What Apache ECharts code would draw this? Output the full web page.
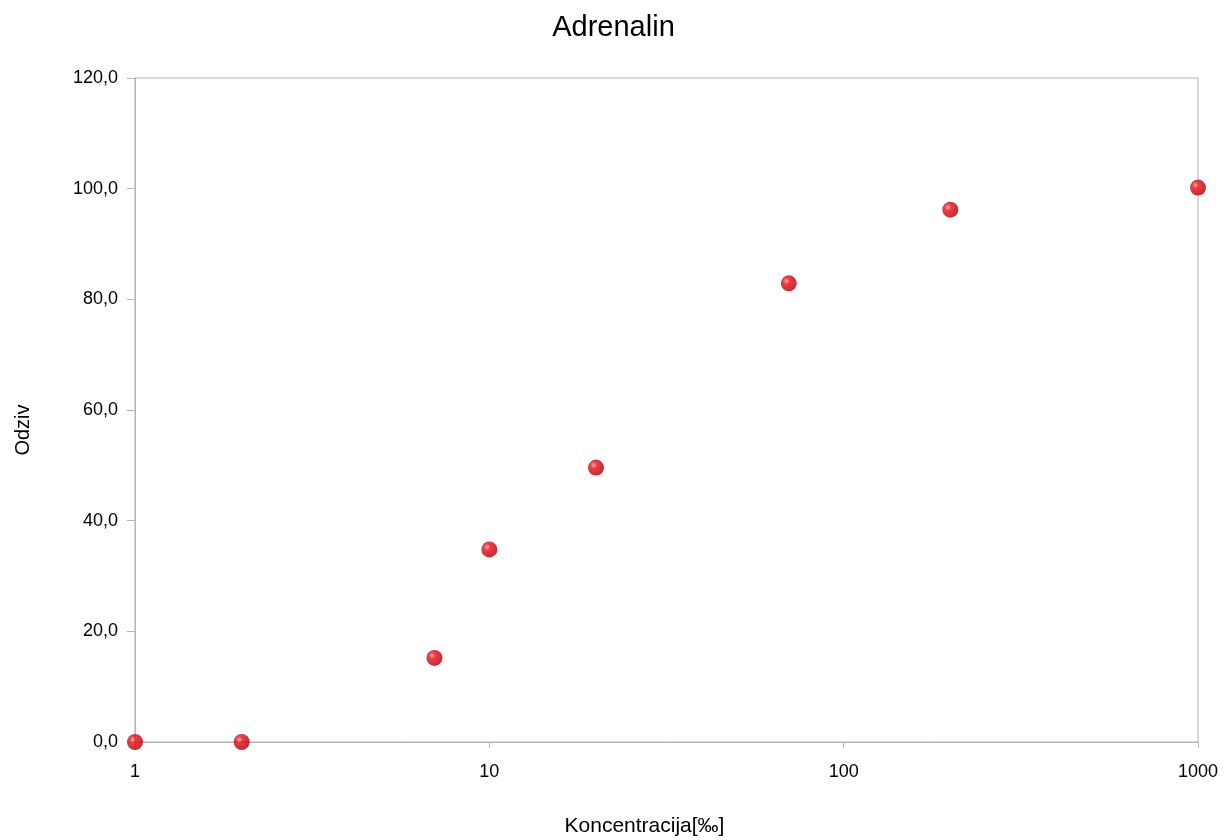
<!DOCTYPE html>
<html><head><meta charset="utf-8">
<script src="https://cdn.jsdelivr.net/npm/echarts@6/dist/echarts.min.js"></script>
<style>html,body{margin:0;padding:0;background:#fff}#c{width:1227px;height:840px}</style>
</head><body><div id="c"></div>
<script>
const concentrations = [1, 2, 7, 10, 20, 70, 200, 1000];
const responses = [0, 0, 15.2, 34.8, 49.6, 82.9, 96.2, 100.2];
const titleText = 'Adrenalin';
const xName = 'Koncentracija[‰]';
const yName = 'Odziv';

const chart = echarts.init(document.getElementById('c'));
const font = '"Liberation Sans", Arial, sans-serif';
chart.setOption({
  animation: false,
  backgroundColor: '#fff',
  title: { text: titleText, left: 'center', top: 8, textStyle: { fontFamily: font, fontWeight: 'normal', fontSize: 29, color: '#000' } },
  grid: { left: 135, right: 29, top: 78, bottom: 98, show: true, borderColor: '#b3b3b3', borderWidth: 1, outerBoundsMode: 'none', containLabel: false },
  xAxis: {
    type: 'log', logBase: 10, min: 1, max: 1000,
    name: xName, nameLocation: 'middle', nameGap: 74,
    nameTextStyle: { fontFamily: font, fontSize: 21, color: '#000', padding: [0, 44, 0, 0] },
    axisLine: { lineStyle: { color: '#b3b3b3', width: 1 } },
    axisTick: { show: true, length: 6, lineStyle: { color: '#b3b3b3' } },
    minorTick: { show: false },
    splitLine: { show: false },
    axisLabel: { fontFamily: font, fontSize: 18, color: '#000', margin: 21,
      formatter: v => String(Math.round(v)) }
  },
  yAxis: {
    type: 'value', min: 0, max: 120, interval: 20,
    name: yName, nameLocation: 'middle', nameGap: 102,
    nameTextStyle: { fontFamily: font, fontSize: 20, color: '#000', padding: [0, 40, 0, 0] },
    axisLine: { show: true, lineStyle: { color: '#b3b3b3', width: 1 } },
    axisTick: { show: true, length: 8, lineStyle: { color: '#b3b3b3' } },
    splitLine: { show: false },
    axisLabel: { fontFamily: font, fontSize: 18, color: '#000', margin: 17,
      formatter: v => v.toFixed(1).replace('.', ',') }
  },
  series: [{
    type: 'scatter',
    data: concentrations.map((c, i) => [c, responses[i]]),
    symbol: 'circle', symbolSize: 16,
    itemStyle: {
      color: new echarts.graphic.RadialGradient(0.35, 0.35, 0.7, [
        { offset: 0, color: '#ff9090' },
        { offset: 0.3, color: '#ee0a14' },
        { offset: 1, color: '#9a0006' }
      ])
    }
  }]
});
</script></body></html>
